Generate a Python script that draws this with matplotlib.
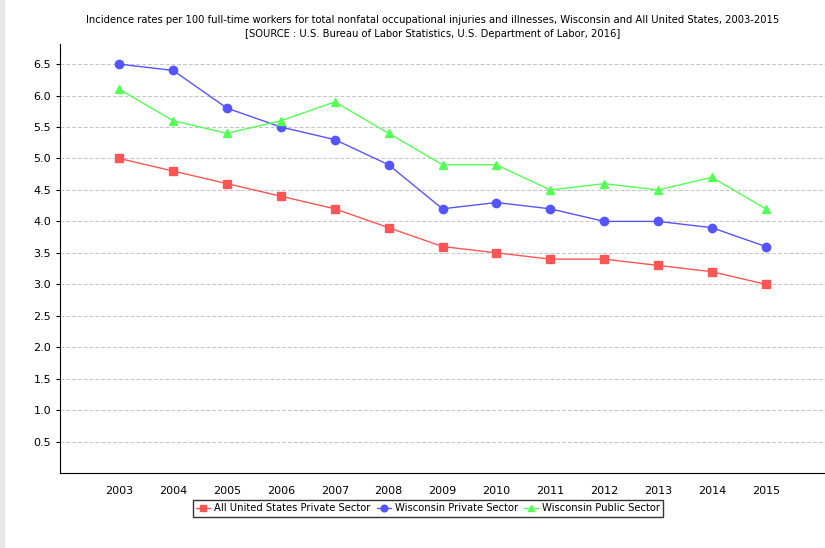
import matplotlib.pyplot as plt
import numpy as np

# incidence rates
years = [2003, 2004, 2005, 2006, 2007, 2008, 2009, 2010, 2011, 2012, 2013, 2014, 2015]
us_private = [5.0, 4.8, 4.6, 4.4, 4.2, 3.9, 3.6, 3.5, 3.4, 3.4, 3.3, 3.2, 3.0]
wi_private = [6.5, 6.4, 5.8, 5.5, 5.3, 4.9, 4.2, 4.3, 4.2, 4.0, 4.0, 3.9, 3.6]
wi_public = [6.1, 5.6, 5.4, 5.6, 5.9, 5.4, 4.9, 4.9, 4.5, 4.6, 4.5, 4.7, 4.2]
yticks = [0.5, 1.0, 1.5, 2.0, 2.5, 3.0, 3.5, 4.0, 4.5, 5.0, 5.5, 6.0, 6.5]

fig = plt.figure(figsize=(8.25, 5.48), dpi=100)
# light grey strip on the left edge like the original
fig.patches.append(plt.Rectangle((0, 0), 0.005, 1, transform=fig.transFigure,
                                 color='#e8e8e8', zorder=0))
ax = fig.add_axes([60/825, 1-473/548, 765/825, (473-44)/548])

ax.plot(years, us_private, color='#ff5555', marker='s', markersize=6, lw=1,
        label='All United States Private Sector')
ax.plot(years, wi_private, color='#5555ff', marker='o', markersize=6, lw=1,
        label='Wisconsin Private Sector')
ax.plot(years, wi_public, color='#55ff55', marker='^', markersize=6, lw=1,
        label='Wisconsin Public Sector')

ax.set_xlim(2001.9, 2016.1)
ax.set_ylim(0, 6.82)
ax.set_xticks(years)
ax.set_yticks(yticks)
ax.set_yticklabels([f'{v:.1f}' for v in yticks])
ax.tick_params(axis='x', length=0, labelsize=8, pad=9)
ax.tick_params(axis='y', length=3, labelsize=8)
ax.grid(axis='y', color='#c4c4c4', linestyle=(0, (4, 2)), linewidth=0.7)
ax.set_axisbelow(True)
for s in ['top', 'right']:
    ax.spines[s].set_visible(False)

fig.text(0.524, 1-20/548, 'Incidence rates per 100 full-time workers for total nonfatal occupational '
         'injuries and illnesses, Wisconsin and All United States, 2003-2015',
         ha='center', va='center', fontsize=7.2)
fig.text(0.524, 1-34/548, '[SOURCE : U.S. Bureau of Labor Statistics, U.S. Department of Labor, 2016]',
         ha='center', va='center', fontsize=7.2)

leg = fig.legend(loc='center', bbox_to_anchor=(428/825, 1-508/548), ncol=3, fontsize=7.2,
                 frameon=True, fancybox=False, edgecolor='black', handlelength=1.4,
                 handletextpad=0.4, columnspacing=0.6, borderpad=0.35, markerscale=0.8)
leg.get_frame().set_linewidth(1)

fig.savefig('out.png', dpi=100)
